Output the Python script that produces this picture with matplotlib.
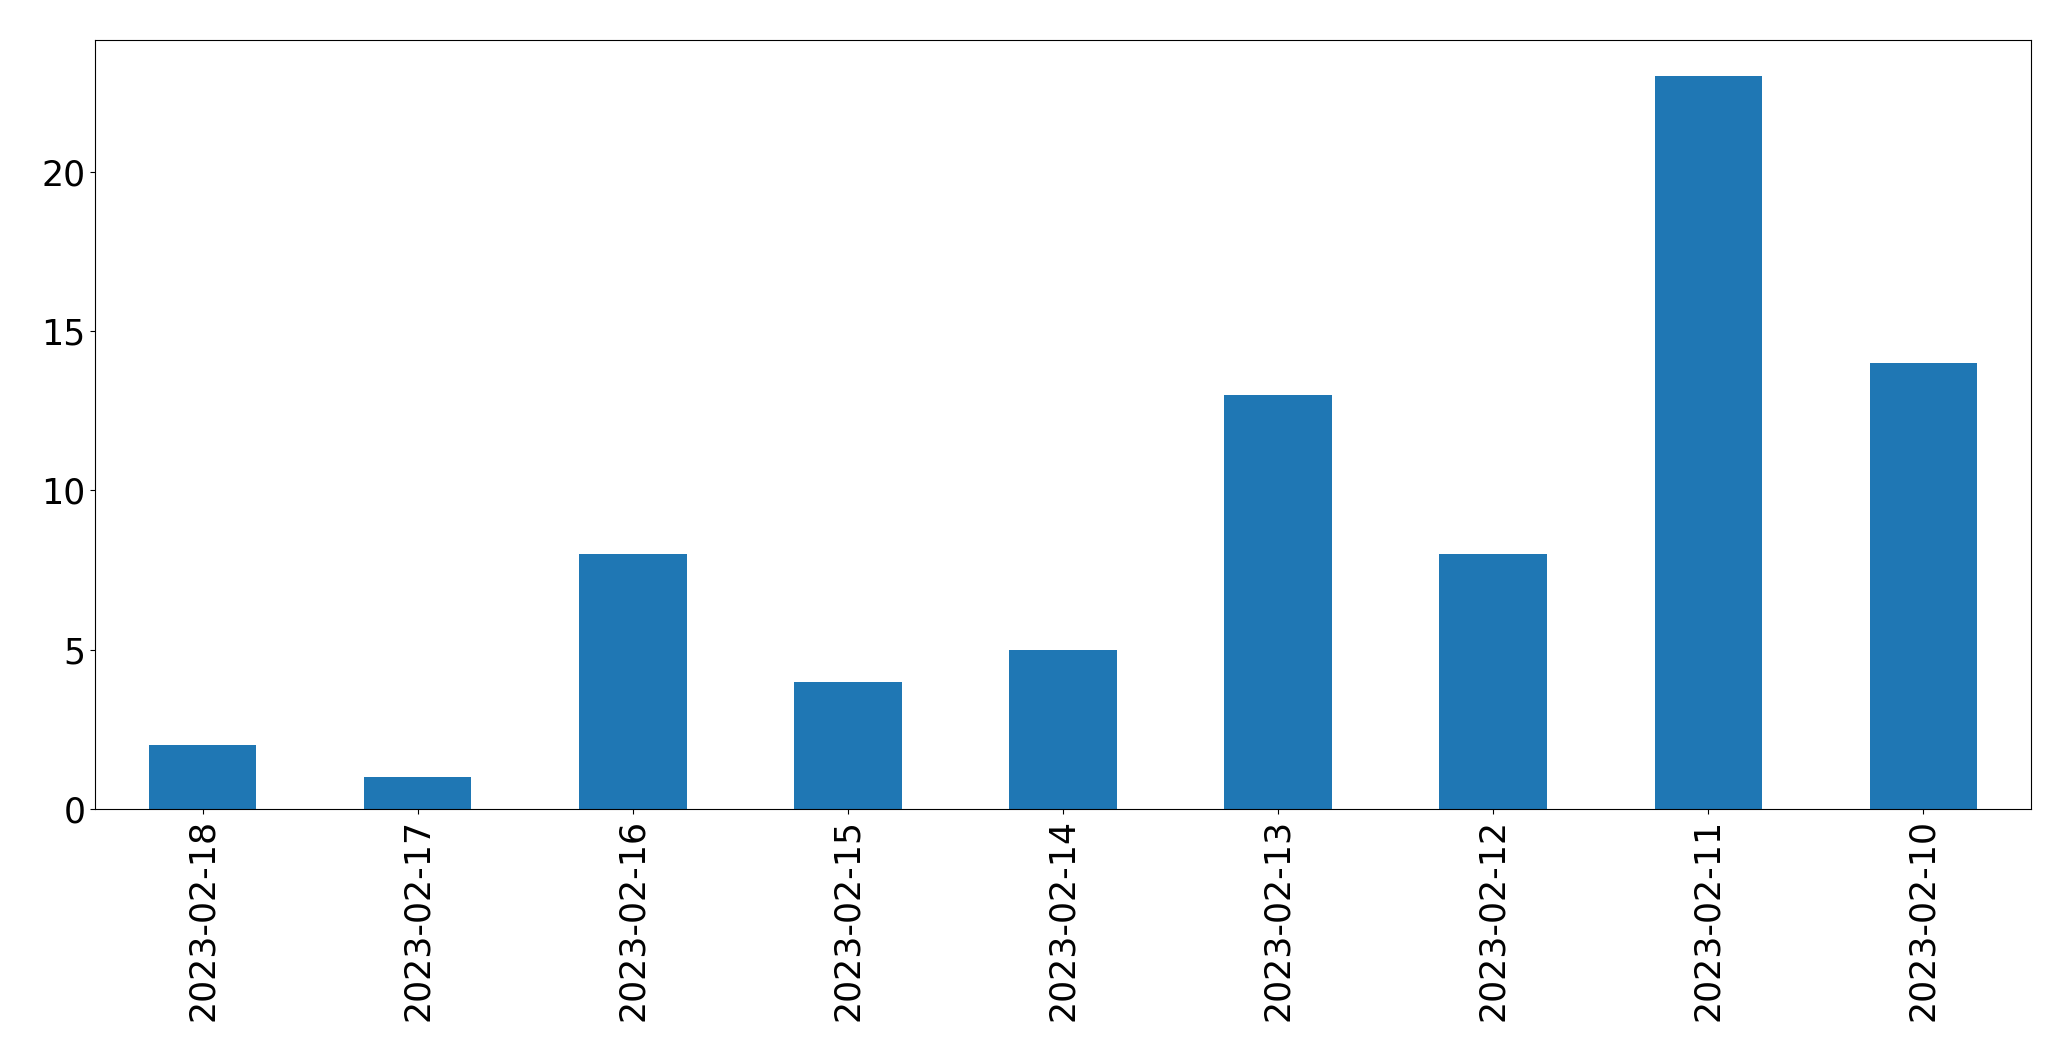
import matplotlib
matplotlib.use("Agg")
import matplotlib.pyplot as plt
import pandas as pd

dates = ["2023-02-18", "2023-02-17", "2023-02-16", "2023-02-15", "2023-02-14",
         "2023-02-13", "2023-02-12", "2023-02-11", "2023-02-10"]
counts = [2, 1, 8, 4, 5, 13, 8, 23, 14]

s = pd.Series(counts, index=dates)
fig = plt.figure(figsize=(20.71, 10.61), dpi=100)
ax = fig.add_axes([0.0459, 0.2375, 0.9807 - 0.0459, 0.9627 - 0.2375])
s.plot(kind="bar", ax=ax, color="#1f77b4", fontsize=25)
ax.tick_params(labelsize=25)
fig.savefig("out.png", dpi=100)
